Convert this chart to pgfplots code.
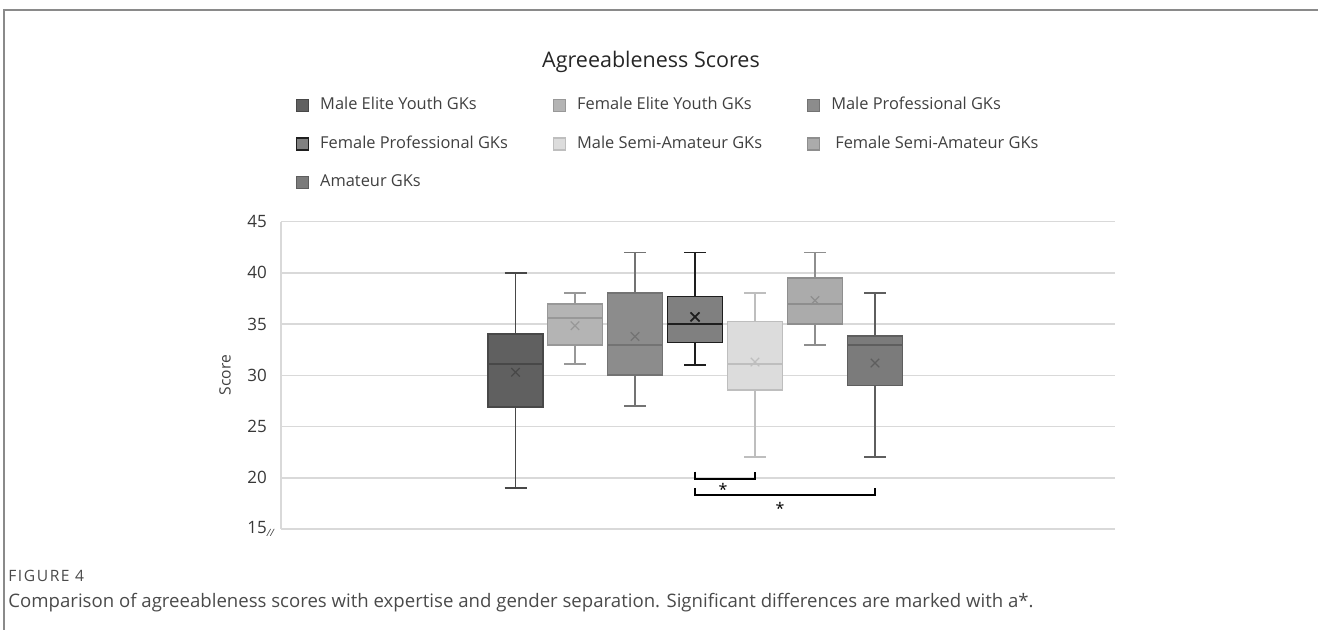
\documentclass[border=0pt]{standalone}
\usepackage{fontspec}
\setmainfont{Open Sans}
\usepackage{pgfplots}
\pgfplotsset{compat=1.18}

% box fills (f) and outlines (d)
\definecolor{fA}{HTML}{606060}\definecolor{dA}{HTML}{484848}
\definecolor{fB}{HTML}{B4B4B4}\definecolor{dB}{HTML}{989898}
\definecolor{fC}{HTML}{8C8C8C}\definecolor{dC}{HTML}{737373}
\definecolor{fD}{HTML}{808080}\definecolor{dD}{HTML}{1E1E1E}
\definecolor{fE}{HTML}{DCDCDC}\definecolor{dE}{HTML}{BEBEBE}
\definecolor{fF}{HTML}{ABABAB}\definecolor{dF}{HTML}{8E8E8E}
\definecolor{fG}{HTML}{7B7B7B}\definecolor{dG}{HTML}{5E5E5E}
\definecolor{gridc}{HTML}{D9D9D9}
\definecolor{labc}{HTML}{404040}
\definecolor{framec}{HTML}{8A8A8A}
\definecolor{capc}{HTML}{4A4A4A}

% one box-and-whisker glyph:
% #1 position, #2 lower whisker, #3 Q1, #4 median, #5 Q3, #6 upper whisker, #7 outline, #8 fill
\newcommand{\gkbox}[8]{%
  \pgfmathsetmacro\gkL{#1-27.5}\pgfmathsetmacro\gkR{#1+27.5}%
  \pgfmathsetmacro\gkCL{#1-11}\pgfmathsetmacro\gkCR{#1+11}%
  \addplot[forget plot, draw=#7, line width=0.9pt] coordinates {(#1,#5) (#1,#6)};
  \addplot[forget plot, draw=#7, line width=0.9pt] coordinates {(\gkCL,#6) (\gkCR,#6)};
  \addplot[forget plot, draw=#7, line width=0.9pt] coordinates {(#1,#3) (#1,#2)};
  \addplot[forget plot, draw=#7, line width=0.9pt] coordinates {(\gkCL,#2) (\gkCR,#2)};
  \addplot[forget plot, draw=#7, fill=#8, line width=0.9pt] coordinates {(\gkL,#3) (\gkR,#3) (\gkR,#5) (\gkL,#5)} --cycle;
  \addplot[forget plot, draw=#7, line width=0.9pt] coordinates {(\gkL,#4) (\gkR,#4)};
}

\begin{document}
\begin{tikzpicture}
\useasboundingbox (0,0) rectangle (659pt,315pt);
% page frame
\draw[framec, line width=1pt] (2.2pt,0pt) -- (2.2pt,310pt) -- (659pt,310pt);

% title
\node[text=black!85, font=\fontsize{10.75}{12}\selectfont] at (325.5pt,284pt) {Agreeableness Scores};

\begin{axis}[
  at={(140.5pt,50.5pt)}, anchor=south west,
  scale only axis, width=417pt, height=153.65pt,
  xmin=0, xmax=834, ymin=15, ymax=45,
  xtick=\empty,
  ytick={15,20,25,30,35,40,45},
  yticklabels={15\rlap{\raisebox{-1.5pt}{\fontsize{5}{6}\selectfont\itshape//}},20,25,30,35,40,45},
  yticklabel style={font=\fontsize{8.5}{10}\selectfont, text=black!78, xshift=-3.5pt},
  major tick length=0pt,
  axis line style={draw=none},
  ymajorgrids,
  major grid style={draw=gridc, line width=0.75pt},
  clip=false,
  legend columns=3,
  legend cell align=left,
  legend image code/.code={\draw[#1] (0pt,-3pt) rectangle (6pt,3pt);},
  legend style={at={(axis description cs:0.018,1.4035)}, anchor=north west,
    draw=none, fill=none, inner sep=0pt, outer sep=0pt,
    font=\fontsize{8.2}{9}\selectfont, text=labc, row sep=11.6pt,
    /tikz/every odd column/.append style={column sep=5.5pt},
    /tikz/every even column/.append style={column sep=22.5pt},
    nodes={inner sep=0pt, text height=6pt, text depth=1.7pt}},
]
\draw[gridc, line width=0.75pt] (rel axis cs:0,0) -- (rel axis cs:0,1);

% legend swatches
\addlegendimage{draw=dA, fill=fA, line width=0.6pt}
\addlegendentry{Male Elite Youth GKs}
\addlegendimage{draw=dB, fill=fB, line width=0.6pt}
\addlegendentry{Female Elite Youth GKs}
\addlegendimage{draw=dC, fill=fC, line width=0.6pt}
\addlegendentry{Male Professional GKs}
\addlegendimage{draw=dD, fill=fD, line width=0.6pt}
\addlegendentry{Female Professional GKs}
\addlegendimage{draw=dE, fill=fE, line width=0.6pt}
\addlegendentry{Male Semi-Amateur GKs}
\addlegendimage{draw=dF, fill=fF, line width=0.6pt}
\addlegendentry{\hspace{2pt}Female Semi-Amateur GKs}
\addlegendimage{draw=dG, fill=fG, line width=0.6pt}
\addlegendentry{Amateur GKs}

% boxes: position, lower whisker, Q1, median, Q3, upper whisker
\gkbox{234.5}{19}{26.9}{31.1}{34}{40}{dA}{fA}
\gkbox{294}{31.1}{33}{35.6}{37}{38}{dB}{fB}
\gkbox{354}{27}{30}{33}{38}{42}{dC}{fC}
\gkbox{414}{31}{33.2}{35}{37.7}{42}{dD}{fD}
\gkbox{474}{22}{28.6}{31.1}{35.25}{38}{dE}{fE}
\gkbox{534}{33}{35}{37}{39.5}{42}{dF}{fF}
\gkbox{594}{22}{29}{33}{33.85}{38}{dG}{fG}

% means
\addplot[forget plot, only marks, mark=x, mark size=3pt, draw=dA, line width=0.6pt] coordinates {(234.5,30.3)};
\addplot[forget plot, only marks, mark=x, mark size=3pt, draw=dB, line width=0.6pt] coordinates {(294,34.85)};
\addplot[forget plot, only marks, mark=x, mark size=3pt, draw=dC, line width=0.6pt] coordinates {(354,33.8)};
\addplot[forget plot, only marks, mark=x, mark size=3.2pt, draw=dD, line width=0.9pt] coordinates {(414,35.7)};
\addplot[forget plot, only marks, mark=x, mark size=3pt, draw=dE, line width=0.6pt] coordinates {(474,31.3)};
\addplot[forget plot, only marks, mark=x, mark size=3pt, draw=dF, line width=0.6pt] coordinates {(534,37.3)};
\addplot[forget plot, only marks, mark=x, mark size=3pt, draw=dG, line width=0.6pt] coordinates {(594,31.2)};

% significance brackets
\addplot[forget plot, black, line width=0.9pt] coordinates {(414,20.6) (414,19.85) (474,19.85) (474,20.6)};
\addplot[forget plot, black, line width=0.9pt] coordinates {(414,19.0) (414,18.3) (594,18.3) (594,19.0)};
\node[anchor=base, font=\fontsize{8}{9}\selectfont, inner sep=0pt] at (axis cs:442,18.3) {*};
\node[anchor=base, font=\fontsize{8}{9}\selectfont, inner sep=0pt] at (axis cs:499,16.4) {*};
\end{axis}

% y axis title
\node[rotate=90, text=labc, font=\fontsize{7.8}{9}\selectfont] at (112.5pt,127.5pt) {Score};

% caption
\node[anchor=base west, inner sep=0pt, text=capc, font=\fontsize{7.8}{9}\selectfont\addfontfeature{LetterSpace=10}] at (4pt,24pt) {FIGURE 4};
\node[anchor=base west, inner sep=0pt, text=capc, font=\fontsize{9.3}{11}\selectfont] at (4pt,11pt) {Comparison of agreeableness scores with expertise and gender separation. Significant differences are marked with a*.};
\end{tikzpicture}
\end{document}
